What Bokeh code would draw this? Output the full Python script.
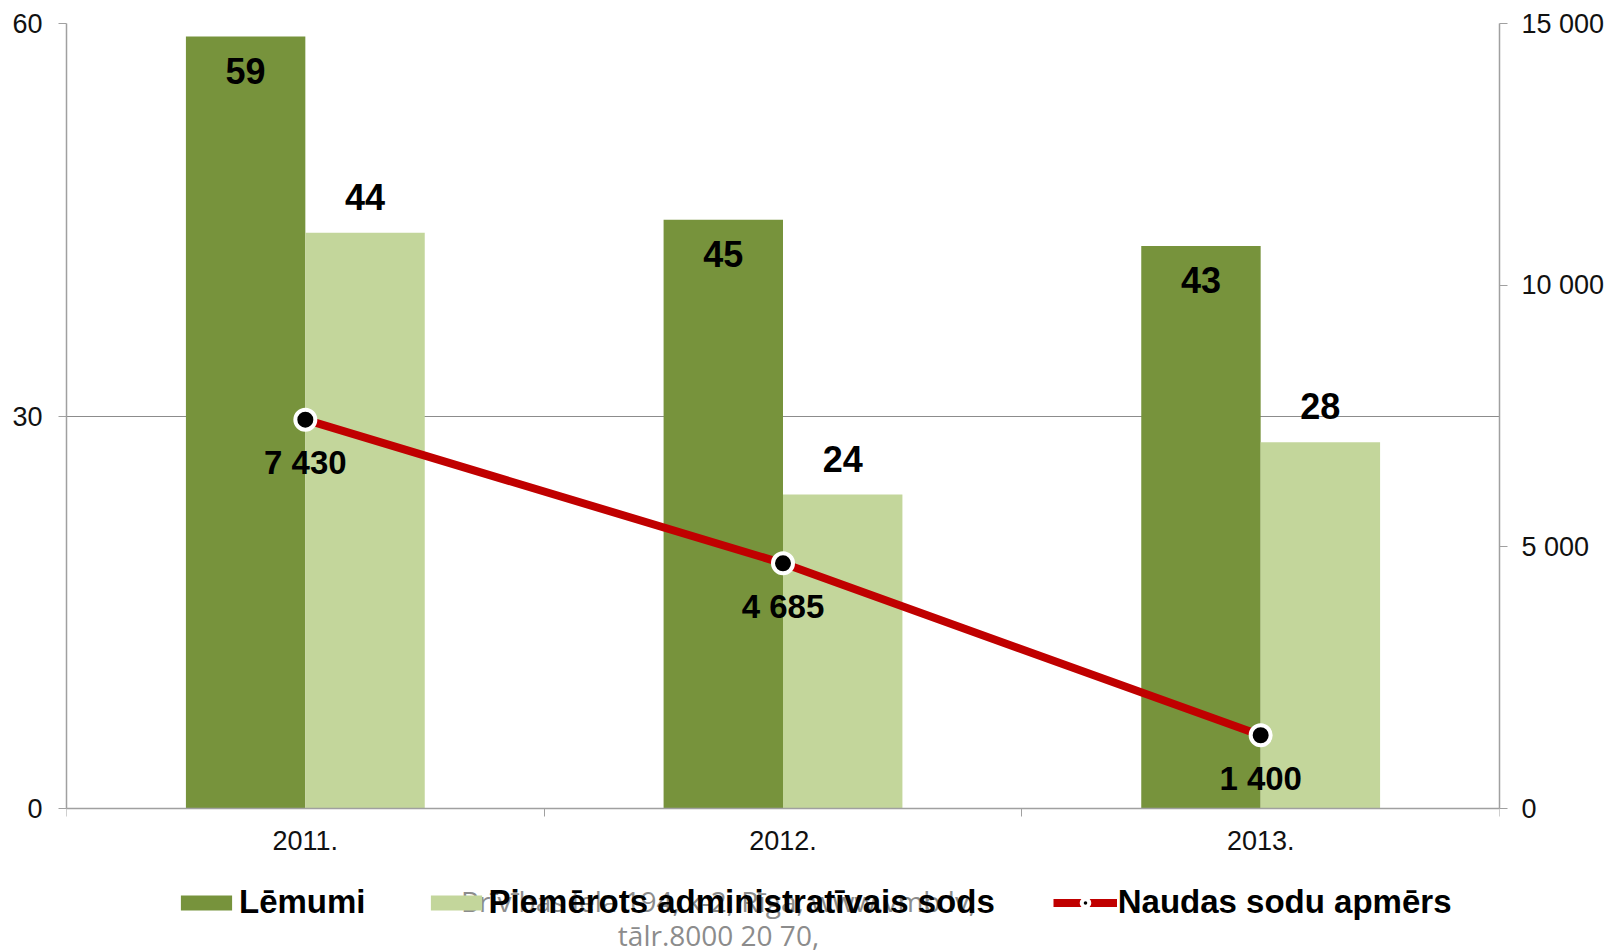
from bokeh.plotting import figure
from bokeh.models import (Range1d, LinearAxis, FixedTicker, ColumnDataSource, LabelSet,
                          Legend, LegendItem, Label)
from bokeh.core.properties import value
from bokeh.embed import file_html
from bokeh.resources import INLINE

# ---- data ----
categories = ["2011.", "2012.", "2013."]
lemumi = [59, 45, 43]
piemerots = [44, 24, 28]
naudas = [7430, 4685, 1400]
left_ticks = [0, 30, 60]
right_ticks = [0, 5000, 10000, 15000]
series_names = ["Lēmumi", "Piemērots administratīvais sods", "Naudas sodu apmērs"]
watermark_lines = ["Brīvības iela 194, k-2, Rīga, www.vmb.lv,", "tālr.8000 20 70,"]

DARK = "#77933C"
LIGHT = "#C3D69B"
RED = "#C00000"
FONT = "Liberation Sans"

# ---- layout geometry (pixels) ----
W, H = 1607, 952
TOP, ZERO_Y, LEFT, RIGHT = 23, 808, 66, 1501
LMAX, RMAX = 60, 15000
ppu = (ZERO_Y - TOP) / LMAX
y_start = -(H - ZERO_Y) / ppu

centers = [i + 0.5 for i in range(len(categories))]
bw = 0.25

fmt = lambda v: f"{v:,}".replace(",", " ")

src = ColumnDataSource(dict(
    xc=centers,
    xd=[c - bw / 2 for c in centers],
    xl=[c + bw / 2 for c in centers],
    lem=lemumi, pie=piemerots, nau=naudas,
    lem_t=[str(v) for v in lemumi],
    pie_t=[str(v) for v in piemerots],
    nau_t=[fmt(v) for v in naudas],
))

p = figure(width=W, height=H, output_backend="svg", toolbar_location=None,
           x_range=Range1d(0, len(categories)), y_range=Range1d(y_start, LMAX),
           min_border_left=LEFT, min_border_right=W - RIGHT, min_border_top=TOP,
           min_border_bottom=0)
p.outline_line_color = None
p.background_fill_color = "white"
p.xaxis.visible = False
p.yaxis.visible = False
p.xgrid.visible = False
p.ygrid.ticker = FixedTicker(ticks=left_ticks)
p.ygrid.grid_line_color = "#8C8C8C"
p.ygrid.grid_line_width = 1

p.extra_y_ranges = {"right": Range1d(y_start * RMAX / LMAX, RMAX)}

AX = "#A0A0A0"
TICK_FS = "27px"
# axes
xax = LinearAxis(ticker=FixedTicker(ticks=centers, minor_ticks=[0, 1, 2, 3]),
                 major_label_overrides={c: n for c, n in zip(centers, categories)},
                 fixed_location=0)
xax.major_tick_out = 0
xax.major_tick_in = 0
xax.minor_tick_out = 8
xax.minor_tick_in = 0
xax.minor_tick_line_color = AX
xax.axis_line_color = AX
xax.axis_line_width = 1.5
xax.major_label_standoff = 14
xax.major_label_text_font = FONT
xax.major_label_text_font_size = TICK_FS
xax.major_label_text_color = "#111111"
p.add_layout(xax, "below")

lax = LinearAxis(ticker=FixedTicker(ticks=left_ticks), bounds=(0, LMAX))
lax.major_tick_out = 8
lax.major_tick_in = 0
lax.minor_tick_out = 0
lax.minor_tick_in = 0
lax.major_tick_line_color = AX
lax.axis_line_color = AX
lax.axis_line_width = 1.5
lax.major_label_standoff = 16
lax.major_label_text_font = FONT
lax.major_label_text_font_size = TICK_FS
lax.major_label_text_color = "#111111"
p.add_layout(lax, "left")

rax = LinearAxis(y_range_name="right", ticker=FixedTicker(ticks=right_ticks),
                 major_label_overrides={t: fmt(t) for t in right_ticks}, bounds=(0, RMAX))
rax.major_tick_out = 8
rax.major_tick_in = 0
rax.minor_tick_out = 0
rax.minor_tick_in = 0
rax.major_tick_line_color = AX
rax.axis_line_color = AX
rax.axis_line_width = 1.5
rax.major_label_standoff = 14
rax.major_label_text_font = FONT
rax.major_label_text_font_size = TICK_FS
rax.major_label_text_color = "#111111"
p.add_layout(rax, "right")

# bars
r1 = p.vbar(x="xd", top="lem", width=bw, source=src, fill_color=DARK, line_color=None)
r2 = p.vbar(x="xl", top="pie", width=bw, source=src, fill_color=LIGHT, line_color=None)

# line
r3 = p.line(x="xc", y="nau", source=src, y_range_name="right", line_color=RED, line_width=8)
r4 = p.scatter(x="xc", y="nau", source=src, y_range_name="right", size=20,
               fill_color="black", line_color="white", line_width=4)

# data labels
common = dict(text_font=value(FONT), text_font_style="bold", text_align="center",
              text_baseline="middle", text_color="black")
p.add_layout(LabelSet(x="xd", y="lem", text="lem_t", source=src, y_offset=-34,
                      text_font_size="36px", **common))
p.add_layout(LabelSet(x="xl", y="pie", text="pie_t", source=src, y_offset=36,
                      text_font_size="36px", **common))
p.add_layout(LabelSet(x="xc", y="nau", text="nau_t", source=src, y_range_name="right",
                      y_offset=-43, text_font_size="33px", **common))

# watermark (behind legend)
p.add_layout(Label(x=652, y=H - 900, x_units="screen", y_units="screen",
                   text=watermark_lines[0], text_font="Open Sans", text_font_size="28px",
                   text_color="#8C8C8C", text_align="center", text_baseline="middle"))
p.add_layout(Label(x=652, y=H - 934, x_units="screen", y_units="screen",
                   text=watermark_lines[1], text_font="Open Sans", text_font_size="28px",
                   text_color="#8C8C8C", text_align="center", text_baseline="middle"))

# legend
legend = Legend(items=[LegendItem(label=series_names[0], renderers=[r1]),
                       LegendItem(label=series_names[1], renderers=[r2]),
                       LegendItem(label=series_names[2], renderers=[r3, r4])],
                orientation="horizontal", location=(108, H - 921),
                label_text_font=FONT, label_text_font_style="bold",
                label_text_font_size="33px", label_text_color="black",
                glyph_width=64, glyph_height=19, label_standoff=1, spacing=58,
                padding=0, margin=0, border_line_color=None, background_fill_alpha=0)
p.add_layout(legend, "center")

open("out.html", "w").write(file_html(p, INLINE))
